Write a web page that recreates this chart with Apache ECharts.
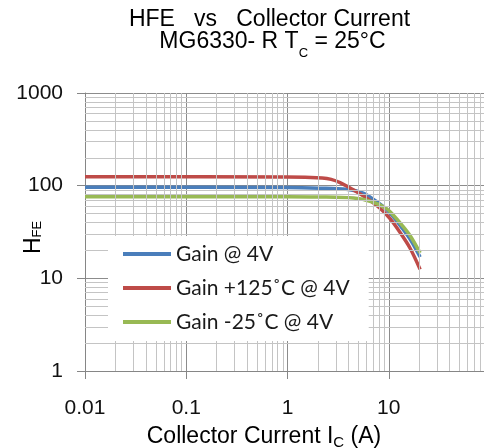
<!DOCTYPE html>
<html>
<head>
<meta charset="utf-8">
<script src="https://cdn.jsdelivr.net/npm/echarts@6/dist/echarts.min.js"></script>
<style>
  html, body { margin: 0; padding: 0; background: #fff; }
  #chart { width: 484px; height: 448px; }
</style>
</head>
<body>
<div id="chart"></div>
<script>
// Tick labels on the two logarithmic axes
const xTickLabels = ['0.01', '0.1', '1', '10'];
const yTickLabels = ['1', '10', '100', '1000'];

// Legend / series names
const seriesNames = ['Gain @ 4V', 'Gain +125˚C @ 4V', 'Gain -25˚C @ 4V'];

// Gain @ 4V : collector current (A) and HFE
const gain4vCurrent = [0.01, 1, 2.1, 3.8, 5.6, 7.5, 9.4, 11, 13.5, 16.4, 20.4];
const gain4vHfe     = [96, 95.5, 94, 91.5, 83, 68, 56, 46.5, 35, 26, 17];

// Gain +125 C @ 4V
const gainHotCurrent = [0.01, 1, 2.2, 2.7, 3.3, 4.5, 6.1, 8.2, 10.3, 13, 16.3, 20.4];
const gainHotHfe     = [125, 124, 121, 117, 108, 90, 73, 57, 44, 31, 21, 12.5];

// Gain -25 C @ 4V
const gainColdCurrent = [0.01, 1, 2, 4.5, 6.8, 9.4, 11, 13.5, 16.4, 20.4];
const gainColdHfe     = [76, 76, 75.5, 73.5, 67, 57, 48.5, 37.5, 28.5, 18.8];

// Decades that carry the 2..9 minor grid lines
const xDecades = [0.01, 0.1, 1, 10];
const yDecades = [1, 10, 100];

const seriesColors = ['#4a7ebb', '#be4b48', '#98b954'];
const FONT = '"Liberation Sans", Arial, sans-serif';

function pairs(xs, ys) { return xs.map((x, i) => [x, ys[i]]); }
function minorValues(decades) {
  const out = [];
  decades.forEach(d => { for (let k = 2; k <= 9; k++) out.push(+(k * d).toPrecision(4)); });
  return out;
}
function labelFor(list) {
  return v => list.find(l => Math.abs(Math.log10(+l) - Math.log10(v)) < 1e-6) || '';
}

const minorGrid = []
  .concat(minorValues(xDecades).map(v => ({ xAxis: v })))
  .concat(minorValues(yDecades).map(v => ({ yAxis: v })));

const curves = [
  pairs(gain4vCurrent, gain4vHfe),
  pairs(gainHotCurrent, gainHotHfe),
  pairs(gainColdCurrent, gainColdHfe)
];

const chart = echarts.init(document.getElementById('chart'), null, { renderer: 'canvas' });

chart.setOption({
  animation: false,
  backgroundColor: '#fff',
  // the plot runs on past the right edge of the canvas, up to 100 A
  grid: { left: 85, top: 93, width: 405, bottom: 77, containLabel: false, outerBoundsMode: 'none' },
  xAxis: {
    type: 'log', logBase: 10, min: 0.01, max: 100,
    axisLine: { show: true, lineStyle: { color: '#868686', width: 1 } },
    axisTick: { show: true, length: 8, lineStyle: { color: '#868686' } },
    axisLabel: { formatter: labelFor(xTickLabels), fontFamily: FONT, fontSize: 21, color: '#111', margin: 27 },
    splitLine: { show: true, lineStyle: { color: '#8c8c8c', width: 1 } }
  },
  yAxis: {
    type: 'log', logBase: 10, min: 1, max: 1000,
    axisLine: { show: true, lineStyle: { color: '#868686', width: 1 } },
    axisTick: { show: true, length: 8, lineStyle: { color: '#868686' } },
    axisLabel: { formatter: labelFor(yTickLabels), fontFamily: FONT, fontSize: 21, color: '#111', margin: 22 },
    splitLine: { show: true, lineStyle: { color: '#8c8c8c', width: 1 } }
  },
  legend: {
    data: seriesNames,
    orient: 'vertical',
    left: 108, top: 236,
    padding: [7, 19, 8, 15],
    itemGap: 12,
    itemWidth: 48, itemHeight: 4,
    icon: 'rect',
    backgroundColor: '#fff',
    zlevel: 1,
    z: 5,
    selectedMode: false,
    textStyle: { fontFamily: 'Lato, sans-serif', fontSize: 21, color: '#1a1a1a', lineHeight: 22 }
  },
  graphic: [
    { type: 'text', x: 269.5, y: 19.5, z: 10,
      style: { text: 'HFE   vs   Collector Current', font: '23px ' + FONT, fill: '#000', align: 'center', verticalAlign: 'middle' } },
    { type: 'text', x: 272.5, y: 41.3, z: 10,
      style: { text: 'MG6330- R T{s|C} = 25°C', fontFamily: FONT, fontSize: 23, lineHeight: 23, fill: '#000', align: 'center', verticalAlign: 'middle',
        rich: { s: { fontFamily: FONT, fontSize: 13, lineHeight: 23, padding: [25, 0, 0, 0], fill: '#000' } } } },
    { type: 'text', x: 264, y: 436.7, z: 10,
      style: { text: 'Collector Current I{s|C} (A)', fontFamily: FONT, fontSize: 23, lineHeight: 23, fill: '#000', align: 'center', verticalAlign: 'middle',
        rich: { s: { fontFamily: FONT, fontSize: 15, lineHeight: 23, padding: [12, 0, 0, 0], fill: '#000' } } } },
    { type: 'text', x: 33.3, y: 237.5, rotation: Math.PI / 2, z: 10,
      style: { text: 'H{s|FE}', fontFamily: FONT, fontSize: 23, lineHeight: 23, fill: '#000', align: 'center', verticalAlign: 'middle',
        rich: { s: { fontFamily: FONT, fontSize: 13, lineHeight: 23, padding: [9, 0, 0, 0], fill: '#000' } } } }
  ],
  series: [
    {
      name: 'minor-grid', type: 'line', data: [], z: 1, silent: true,
      markLine: {
        silent: true, symbol: 'none', animation: false,
        label: { show: false },
        lineStyle: { color: '#c4c4c4', width: 1, type: 'solid' },
        emphasis: { disabled: true },
        data: minorGrid
      }
    }
  ].concat(curves.map((d, i) => ({
    name: seriesNames[i], type: 'line', data: d, z: 3,
    showSymbol: false, smooth: 0.3,
    lineStyle: { color: seriesColors[i], width: 3.5 },
    itemStyle: { color: seriesColors[i] }
  })))
});
</script>
</body>
</html>
